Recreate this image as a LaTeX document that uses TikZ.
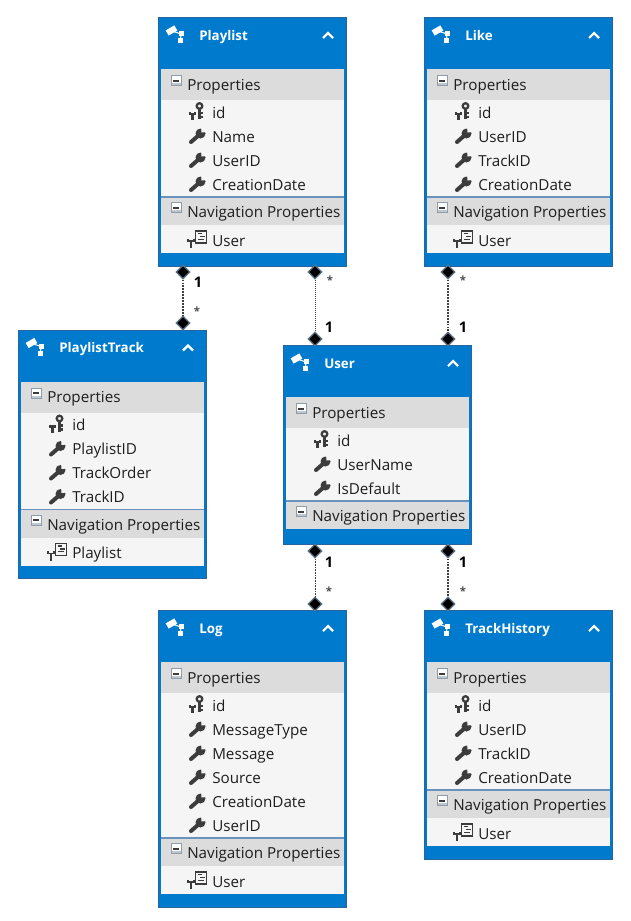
\documentclass[tikz,border=0pt]{standalone}
\usepackage{fontspec}
\setmainfont{Open Sans}
\usetikzlibrary{shapes.geometric}

\definecolor{headblue}{RGB}{0,122,204}
\definecolor{edgeblue}{RGB}{40,100,160}
\definecolor{bandgray}{RGB}{220,220,220}
\definecolor{panelgray}{RGB}{245,245,245}
\definecolor{inktext}{RGB}{30,30,30}
\definecolor{icongray}{RGB}{60,60,60}
\definecolor{slate}{RGB}{95,115,135}

\tikzset{
  frame/.style={draw=edgeblue,line width=0.9pt,fill=headblue,anchor=north west,inner sep=0pt,minimum width=141pt},
  title/.style={anchor=base west,inner sep=0pt,text=white,font=\fontsize{10}{12}\selectfont\bfseries},
  rowtext/.style={anchor=base west,inner sep=0pt,text=inktext,font=\fontsize{11.4}{13}\selectfont},
  enddiamond/.style={diamond,fill=black,draw=slate,line width=0.9pt,inner sep=0pt,minimum width=10.5pt,minimum height=10.5pt},
  multone/.style={inner sep=0pt,text=black,font=\fontsize{11}{13}\selectfont\bfseries},
  multmany/.style={inner sep=0pt,text=black!70,font=\fontsize{8.5}{10}\selectfont\bfseries},
  link/.style={draw=black!75,line width=0.7pt,dash pattern=on 1.2pt off 0.3pt},
  linkdense/.style={draw=black!75,line width=1.2pt,dash pattern=on 1.4pt off 0.8pt},
  linkthin/.style={draw=black!75,line width=0.6pt,dash pattern=on 1.2pt off 0.8pt},
  chevron/.pic={
    \draw[white,line width=1.6pt] (-5,3) -- (0,-2) -- (5,3);
  },
  entityicon/.pic={
    \draw[white,line width=0.8pt] (-3,-2) -- (6,1) -- (5.5,7);
    \fill[white,rotate around={30:(-3.5,-2.5)}] (-8.5,-5.5) rectangle (1.5,0.5);
    \fill[white] (4,-2) rectangle (9,3);
    \fill[white] (3,5) rectangle (8,10);
  },
  minusbox/.pic={
    \draw[slate!70,fill=white,line width=0.7pt] (-5,-5) rectangle (5,5);
    \fill[icongray] (-3,-1) rectangle (3,1);
    \fill[slate!40] (-4.5,2.5) rectangle (4.5,4.5);
  },
  keyicon/.pic={
    \draw[icongray,line width=1.7pt] (2.5,-6) circle (2.8);
    \draw[icongray,line width=1.9pt] (2.5,-3) -- (2.5,7) (2.5,1) -- (6,1) (2.5,5) -- (6,5);
    \draw[icongray,line width=1.6pt] (-7,0) -- (-7,2) -- (-2,2) -- (-2,0);
    \draw[icongray,line width=1.9pt] (-4.5,2) -- (-4.5,8);
  },
  wrenchicon/.pic={
    \draw[icongray,line width=3pt,line cap=round] (-6,6) -- (2,-1);
    \fill[icongray] (3.5,-2.5) circle (5);
    \fill[panelgray] (4.5,-3.5) -- (10,-4) -- (10,-10) -- (4,-10) -- cycle;
  },
  navicon/.pic={
    \draw[icongray,line width=0.8pt,fill=panelgray] (-0.5,-9) rectangle (10.5,3);
    \draw[icongray,line width=0.9pt] (2,-6.5) -- (6,-6.5) (4,-3.5) -- (8.5,-3.5) (2,-0.8) -- (8,-0.8);
    \draw[icongray,line width=1.6pt] (-5,1) -- (-5,8);
    \draw[icongray,line width=1.3pt] (-8,-1.5) -- (-8,1) -- (-2,1) -- (-2,-1.5);
  }
}

% name, left, top, title, number of properties, properties, number of navigation rows, navigation rows
\newcommand{\entitybox}[8]{
  \pgfmathsetmacro{\navtop}{#3+84+24*#5}
  \pgfmathsetmacro{\navbot}{\navtop+28}
  \pgfmathsetmacro{\panelbot}{\navbot+28*#7}
  \pgfmathsetmacro{\boxheight}{\panelbot-#3+12.5+ifthenelse(#7==0,2,0)}
  \node[frame,minimum height=\boxheight*0.75pt] (#1) at (#2,#3) {};
  \fill[bandgray] (#2+3,#3+52) rectangle (#2+185.5,#3+83);
  \fill[panelgray] (#2+3,#3+83) rectangle (#2+185.5,\navtop);
  \fill[bandgray] (#2+3,\navtop) rectangle (#2+185.5,\navbot);
  \ifnum#7>0 \fill[panelgray] (#2+3,\navbot) rectangle (#2+185.5,\panelbot);\fi
  \draw[edgeblue!70!white,line width=0.8pt] (#2+3,\navtop) -- (#2+185.5,\navtop);
  \node[title] (#1-title) at (#2+41,#3+23) {#4};
  \pic at (#2+170,#3+18) {chevron};
  \pic at (#2+17,#3+16) {entityicon};
  \pic at (#2+18,#3+63.5) {minusbox};
  \node[rowtext] (#1-props) at (#2+29,#3+73) {Properties};
  \foreach \rowname [count=\i from 0] in {#6}{
    \pgfmathsetmacro{\rowy}{#3+95+24*\i}
    \node[rowtext] (#1-row\i) at (#2+54,\rowy+6) {\rowname};
    \ifnum\i=0
      \pic at (#2+39,\rowy) {keyicon};
    \else
      \pic at (#2+39,\rowy) {wrenchicon};
    \fi
  }
  \pic at (#2+18,\navtop+10.5) {minusbox};
  \node[rowtext] (#1-nav) at (#2+29,\navtop+20.5) {Navigation Properties};
  \ifnum#7>0
    \node[rowtext] (#1-navrow) at (#2+54,\navbot+21) {#8};
    \pic at (#2+38,\navbot+15) {navicon};
  \fi
}

\begin{document}
\begin{tikzpicture}[x=0.75pt,y=-0.75pt]
  \useasboundingbox[fill=white] (0,0) rectangle (631,921);

  \entitybox{playlist}{158}{17}{Playlist}{4}{id,Name,UserID,CreationDate}{1}{User}
  \entitybox{like}{424}{17}{Like}{4}{id,UserID,TrackID,CreationDate}{1}{User}
  \entitybox{playlisttrack}{18}{329.5}{PlaylistTrack}{4}{id,PlaylistID,TrackOrder,TrackID}{1}{Playlist}
  \entitybox{user}{283}{345}{User}{3}{id,UserName,IsDefault}{0}{}
  \entitybox{log}{158}{610}{Log}{6}{id,MessageType,Message,Source,CreationDate,UserID}{1}{User}
  \entitybox{trackhistory}{424}{610}{TrackHistory}{4}{id,UserID,TrackID,CreationDate}{1}{User}

  % ends of the associations
  \node[enddiamond] (a1) at (183,272) {};
  \node[enddiamond] (a2) at (183,323) {};
  \node[enddiamond] (b1) at (315,272) {};
  \node[enddiamond] (b2) at (315,339) {};
  \node[enddiamond] (c1) at (448,272) {};
  \node[enddiamond] (c2) at (448,339) {};
  \node[enddiamond] (d1) at (315,551) {};
  \node[enddiamond] (d2) at (315,604) {};
  \node[enddiamond] (e1) at (448,551) {};
  \node[enddiamond] (e2) at (448,604) {};

  \draw[linkdense] (a1) -- (a2);
  \draw[link] (b1) -- (b2);
  \draw[linkdense] (c1) -- (c2);
  \draw[linkthin] (d1) -- (d2);
  \draw[linkdense] (e1) -- (e2);

  \node[multone] (a1m) at (198,282) {1};
  \node[multmany] (a2m) at (197,311) {*};
  \node[multmany] (b1m) at (330,280) {*};
  \node[multone] (b2m) at (329,327) {1};
  \node[multmany] (c1m) at (463,280) {*};
  \node[multone] (c2m) at (463,327) {1};
  \node[multone] (d1m) at (329,562) {1};
  \node[multmany] (d2m) at (329,591) {*};
  \node[multone] (e1m) at (463,562) {1};
  \node[multmany] (e2m) at (463,591) {*};
\end{tikzpicture}
\end{document}
